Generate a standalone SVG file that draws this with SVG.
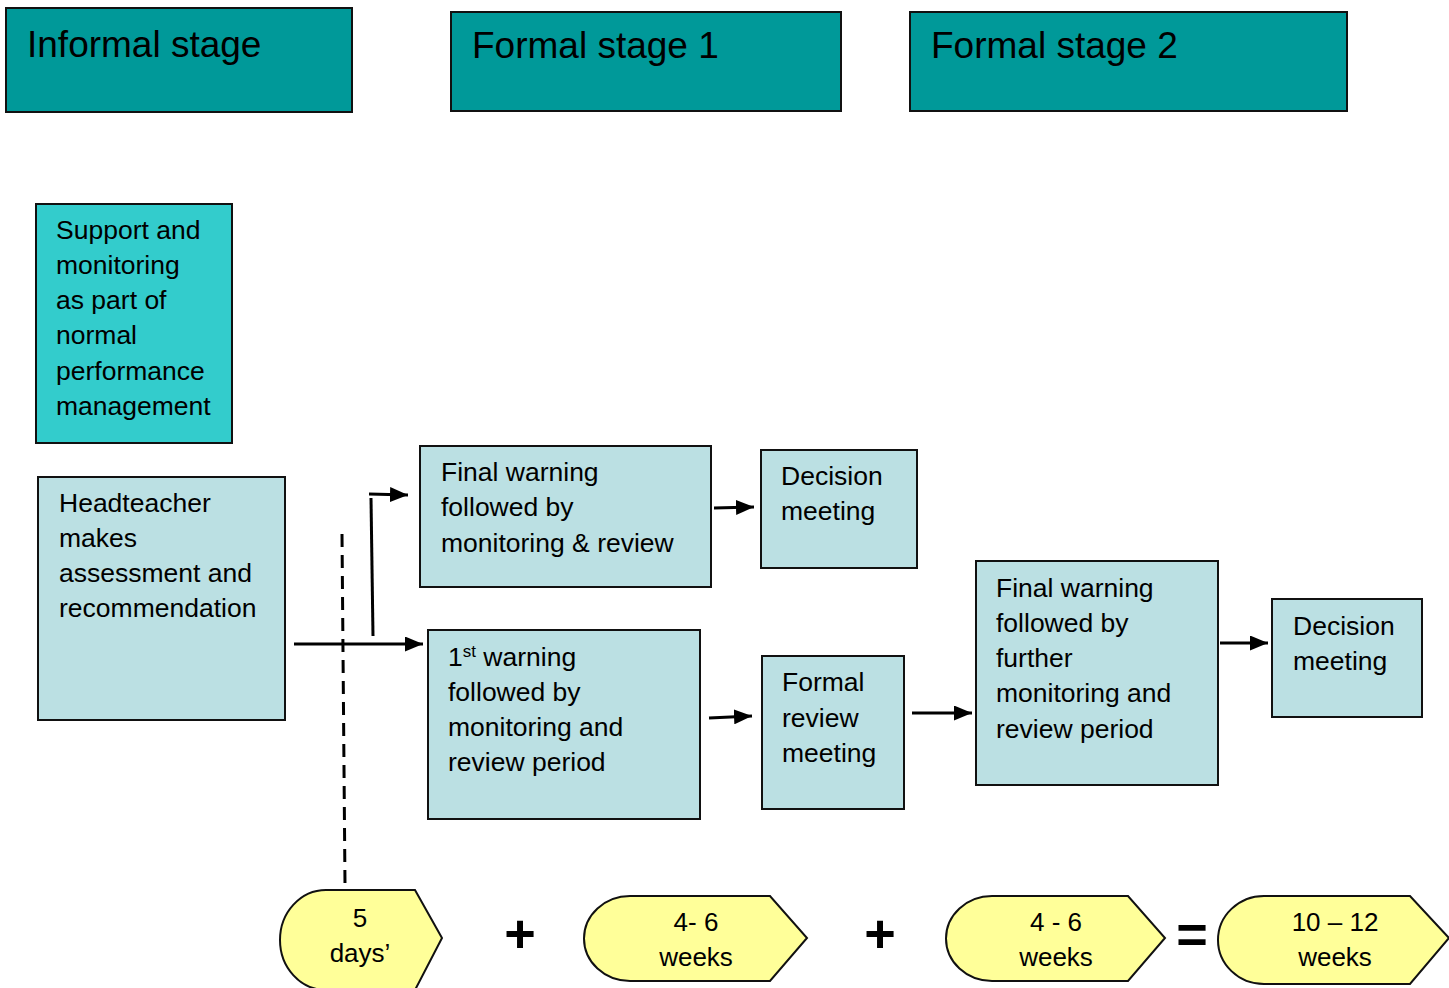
<svg xmlns="http://www.w3.org/2000/svg" width="1449" height="988" viewBox="0 0 1449 988">
<style>
text{font-family:"Liberation Sans",Arial,sans-serif;fill:#000}
.hdr{fill:#009999;stroke:#111;stroke-width:2}
.sup{fill:#33CCCC;stroke:#111;stroke-width:2}
.box{fill:#BBE0E3;stroke:#111;stroke-width:2}
.yel{fill:#FFFF99;stroke:#111;stroke-width:2}
.h{font-size:37px}
.t{font-size:26.5px}
.y{font-size:26px;text-anchor:middle}
.op{font-size:54px;font-weight:bold;text-anchor:middle}
.ln{stroke:#000;stroke-width:3;fill:none}
</style>
<defs>
<marker id="ah" viewBox="0 0 10 10" refX="10" refY="5" markerWidth="18" markerHeight="15" preserveAspectRatio="none" markerUnits="userSpaceOnUse" orient="auto">
<path d="M0,0 L10,5 L0,10 z" fill="#000"/>
</marker>
</defs>
<g id="hdr-informal"><rect class="hdr" x="6" y="8" width="346" height="104"/><text class="h" x="27" y="57">Informal stage</text></g>
<g id="hdr-formal1"><rect class="hdr" x="451" y="12" width="390" height="99"/><text class="h" x="472" y="58">Formal stage 1</text></g>
<g id="hdr-formal2"><rect class="hdr" x="910" y="12" width="437" height="99"/><text class="h" x="931" y="58">Formal stage 2</text></g>

<g id="support"><rect class="sup" x="36" y="204" width="196" height="239"/>
<text class="t" x="56" y="239">Support and</text>
<text class="t" x="56" y="274">monitoring</text>
<text class="t" x="56" y="309">as part of</text>
<text class="t" x="56" y="344">normal</text>
<text class="t" x="56" y="380">performance</text>
<text class="t" x="56" y="415">management</text></g>

<g id="headteacher"><rect class="box" x="38" y="477" width="247" height="243"/>
<text class="t" x="59" y="512">Headteacher</text>
<text class="t" x="59" y="547">makes</text>
<text class="t" x="59" y="582">assessment and</text>
<text class="t" x="59" y="617">recommendation</text></g>

<g id="final1"><rect class="box" x="420" y="446" width="291" height="141"/>
<text class="t" x="441" y="481">Final warning</text>
<text class="t" x="441" y="516">followed by</text>
<text class="t" x="441" y="552">monitoring &amp; review</text></g>

<g id="decision1"><rect class="box" x="761" y="450" width="156" height="118"/>
<text class="t" x="781" y="485">Decision</text>
<text class="t" x="781" y="520">meeting</text></g>

<g id="first"><rect class="box" x="428" y="630" width="272" height="189"/>
<text class="t" x="448" y="666">1<tspan font-size="17" dy="-9">st</tspan><tspan dy="9"> warning</tspan></text>
<text class="t" x="448" y="701">followed by</text>
<text class="t" x="448" y="736">monitoring and</text>
<text class="t" x="448" y="771">review period</text></g>

<g id="formalreview"><rect class="box" x="762" y="656" width="142" height="153"/>
<text class="t" x="782" y="691">Formal</text>
<text class="t" x="782" y="727">review</text>
<text class="t" x="782" y="762">meeting</text></g>

<g id="final2"><rect class="box" x="976" y="561" width="242" height="224"/>
<text class="t" x="996" y="597">Final warning</text>
<text class="t" x="996" y="632">followed by</text>
<text class="t" x="996" y="667">further</text>
<text class="t" x="996" y="702">monitoring and</text>
<text class="t" x="996" y="738">review period</text></g>

<g id="decision2"><rect class="box" x="1272" y="599" width="150" height="118"/>
<text class="t" x="1293" y="635">Decision</text>
<text class="t" x="1293" y="670">meeting</text></g>

<g id="connectors">
<line class="ln" x1="342" y1="534" x2="345" y2="885" stroke-dasharray="13,8"/>
<line class="ln" x1="294" y1="644" x2="423" y2="644" marker-end="url(#ah)"/>
<line class="ln" x1="371" y1="498" x2="373" y2="636"/>
<line class="ln" x1="369" y1="494" x2="408" y2="495" marker-end="url(#ah)"/>
<line class="ln" x1="714" y1="508" x2="754" y2="507" marker-end="url(#ah)"/>
<line class="ln" x1="709" y1="718" x2="752" y2="716" marker-end="url(#ah)"/>
<line class="ln" x1="912" y1="713" x2="972" y2="713" marker-end="url(#ah)"/>
<line class="ln" x1="1220" y1="643" x2="1268" y2="643" marker-end="url(#ah)"/>
</g>

<g id="t1"><path class="yel" d="M326 890 L415 890 L442 938 L415 990 L326 990 A46 50 0 0 1 326 890 Z"/>
<text class="y" x="360" y="927">5</text><text class="y" x="360" y="962">days’</text></g>
<g id="plus1"><text class="op" x="520" y="952">+</text></g>
<g id="t2"><path class="yel" d="M630 896 L770 896 L807 938 L770 981 L630 981 A46 42.5 0 0 1 630 896 Z"/>
<text class="y" x="696" y="931">4- 6</text><text class="y" x="696" y="966">weeks</text></g>
<g id="plus2"><text class="op" x="880" y="952">+</text></g>
<g id="t3"><path class="yel" d="M992 896 L1128 896 L1165 938 L1128 981 L992 981 A46 42.5 0 0 1 992 896 Z"/>
<text class="y" x="1056" y="931">4 - 6</text><text class="y" x="1056" y="966">weeks</text></g>
<g id="eq"><text class="op" x="1192" y="953">=</text></g>
<g id="t4"><path class="yel" d="M1264 896 L1410 896 L1449 938 L1410 984 L1264 984 A46 44 0 0 1 1264 896 Z"/>
<text class="y" x="1335" y="931">10 – 12</text><text class="y" x="1335" y="966">weeks</text></g>
</svg>
